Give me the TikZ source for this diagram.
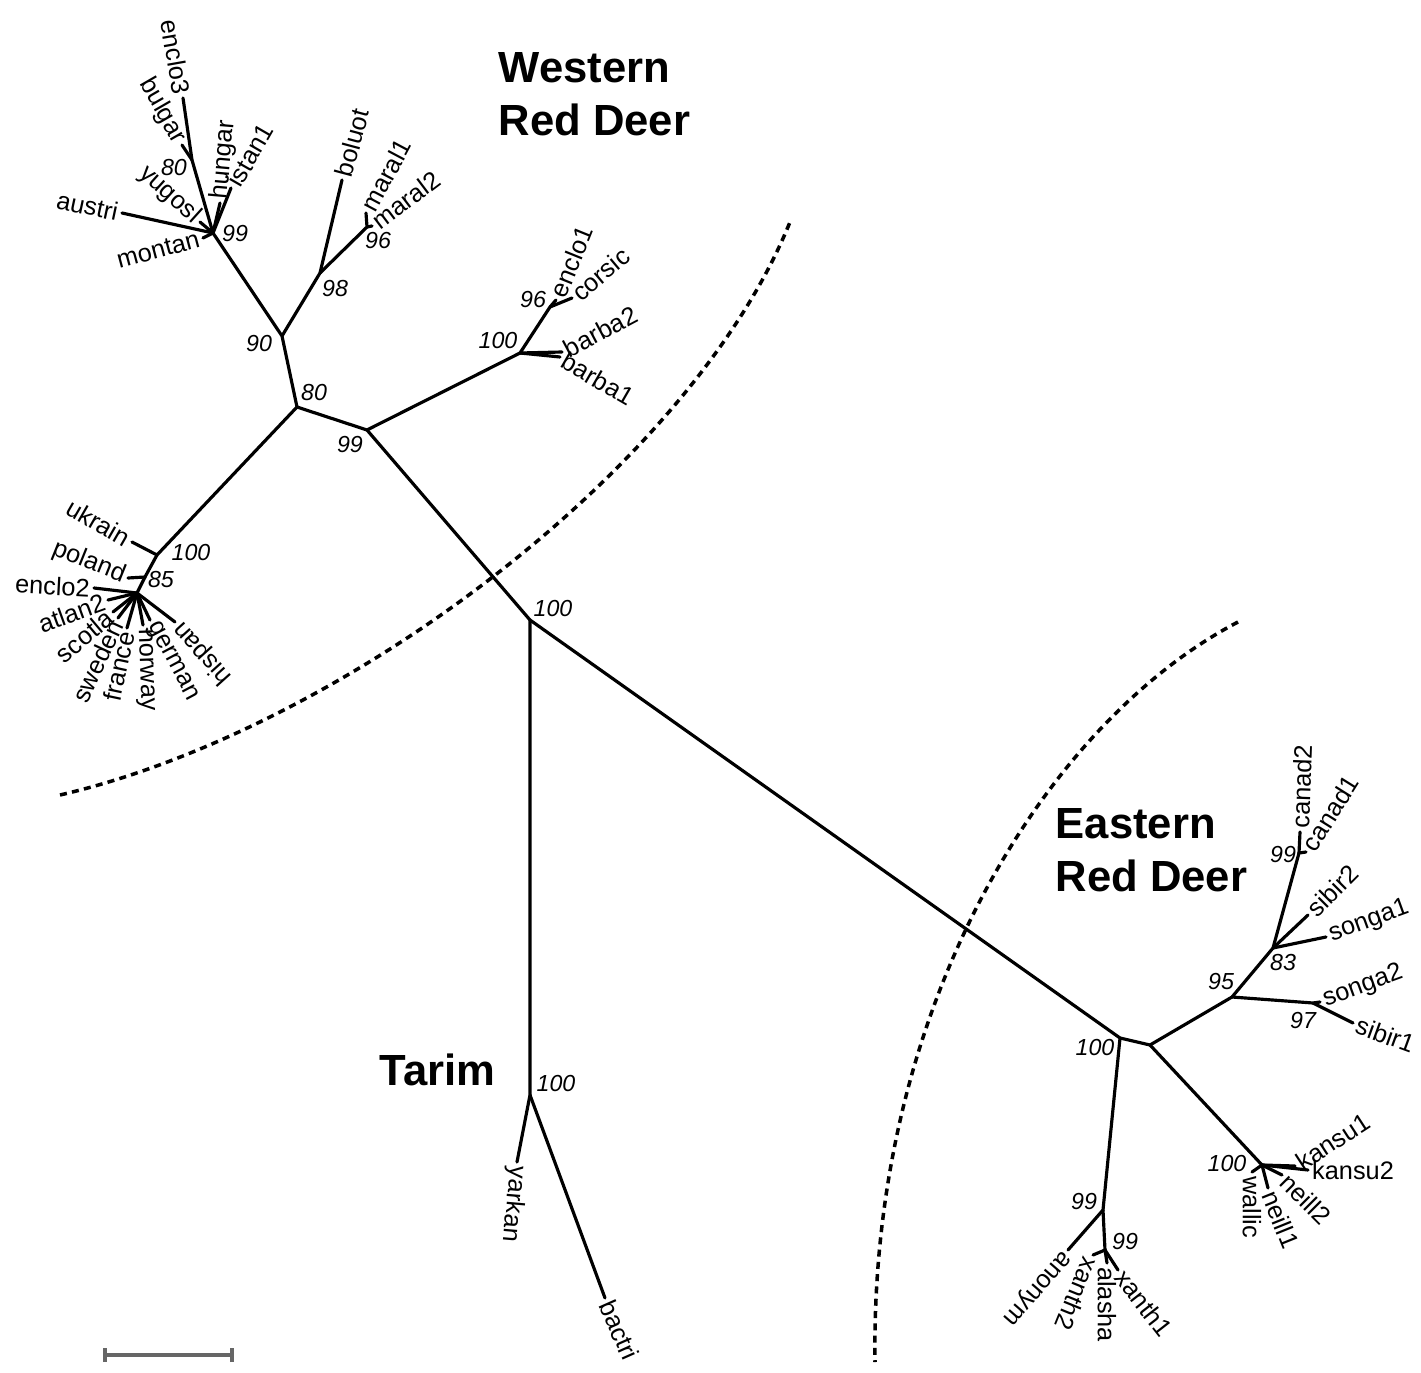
\documentclass[tikz,border=0pt]{standalone}
\usepackage{fontspec}
\setmainfont{Liberation Sans}

\begin{document}
\begin{tikzpicture}[
		x=0.01cm, y=-0.01cm,
		branch/.style={
				line width=0.9pt,
				line cap=round
			},
		tip/.style={
				font=\fontsize{7.2}{8}\selectfont,
				inner sep=1pt,
				anchor=west
			},
		tipf/.style={
				tip,
				anchor=east
			},
		boot/.style={
				font=\fontsize{6.6}{7}\selectfont\itshape,
				inner sep=0pt
			},
		group/.style={
				font=\fontsize{12.4}{15}\selectfont\bfseries,
				align=left,
				inner sep=0pt
			},
		border/.style={
				line width=1pt,
				dash pattern=on 2pt off 1.5pt
			},
		scalebar/.style={
				draw=black!60,
				line width=1pt
			}
	]
	\useasboundingbox (0,0) rectangle (1421,1373);

	% inner nodes
	\coordinate (W99) at (213,233);
	\coordinate (N80) at (192,160);
	\coordinate (W90) at (282,336);
	\coordinate (W98) at (320,273);
	\coordinate (W96) at (367,227);
	\coordinate (W80) at (297,407);
	\coordinate (W99b) at (367,430);
	\coordinate (N100) at (157,555);
	\coordinate (N85) at (145,577);
	\coordinate (P) at (137,593);
	\coordinate (B100) at (520,353);
	\coordinate (B96) at (550,307);
	\coordinate (A100) at (530,620);
	\coordinate (T100) at (530,1095);
	\coordinate (E100) at (1120,1038);
	\coordinate (E2) at (1150,1045);
	\coordinate (E95) at (1232,997);
	\coordinate (E83) at (1273,948);
	\coordinate (E99) at (1299,853);
	\coordinate (E97) at (1313,1003);
	\coordinate (K100) at (1262,1165);
	\coordinate (Y99) at (1103,1210);
	\coordinate (X99) at (1105,1250);

	% leaves
	\node[tipf, rotate=-80] (enclo3) at (183,98) {enclo3};
	\node[tipf, rotate=-60] (bulgar) at (182,145) {bulgar};
	\node[tip, rotate=85] (hungar) at (220,203) {hungar};
	\node[tip, rotate=60] (istan1) at (231,188) {istan1};
	\node[tipf, rotate=-42] (yugosl) at (200,222) {yugosl};
	\node[tipf, rotate=-12] (austri) at (122,213) {austri};
	\node[tipf, rotate=15] (montan) at (203,238) {montan};
	\node[tip, rotate=75] (boluot) at (342,180) {boluot};
	\node[tip, rotate=62] (maral1) at (366,213) {maral1};
	\node[tip, rotate=37] (maral2) at (372,226) {maral2};
	\node[tip, rotate=68] (enclo1) at (556,300) {enclo1};
	\node[tip, rotate=40] (corsic) at (572,298) {corsic};
	\node[tip, rotate=28] (barba2) at (562,352) {barba2};
	\node[tip, rotate=-30] (barba1) at (560,357) {barba1};
	\node[tipf, rotate=-30] (ukrain) at (132,542) {ukrain};
	\node[tipf, rotate=-22] (poland) at (128,578) {poland};
	\node[tipf, rotate=-3] (enclo2) at (94,588) {enclo2};
	\node[tipf, rotate=20] (atlan2) at (108,600) {atlan2};
	\node[tipf, rotate=40] (scotla) at (113,612) {scotla};
	\node[tipf, rotate=65] (sweden) at (118,618) {sweden};
	\node[tipf, rotate=78] (france) at (127,628) {france};
	\node[tip, rotate=-88] (norway) at (143,625) {norway};
	\node[tip, rotate=-62] (german) at (150,620) {german};
	\node[tipf, rotate=132] (hispan) at (175,622) {hispan};
	\node[tip, rotate=-95] (yarkan) at (517,1162) {yarkan};
	\node[tip, rotate=-66] (bactri) at (605,1298) {bactri};
	\node[tip, rotate=88] (canad2) at (1300,832) {canad2};
	\node[tip, rotate=58] (canad1) at (1306,852) {canad1};
	\node[tip, rotate=45] (sibir2) at (1308,915) {sibir2};
	\node[tip, rotate=20] (songa1) at (1326,937) {songa1};
	\node[tip, rotate=20] (songa2) at (1320,1002) {songa2};
	\node[tip, rotate=-20] (sibir1) at (1353,1023) {sibir1};
	\node[tip, rotate=33] (kansu1) at (1295,1166) {kansu1};
	\node[tip, rotate=0] (kansu2) at (1308,1170) {kansu2};
	\node[tip, rotate=-45] (neill2) at (1282,1175) {neill2};
	\node[tip, rotate=-68] (neill1) at (1268,1188) {neill1};
	\node[tip, rotate=-90] (wallic) at (1252,1172) {wallic};
	\node[tip, rotate=-52] (xanth1) at (1118,1270) {xanth1};
	\node[tip, rotate=-90] (alasha) at (1107,1263) {alasha};
	\node[tip, rotate=-112] (xanth2) at (1093,1255) {xanth2};
	\node[tip, rotate=-131] (anonym) at (1068,1250) {anonym};

	% branches
	\draw[branch] (W99) -- (W90) -- (W80) -- (W99b) -- (A100) -- (E100) -- (E2) -- (E95) -- (E83) -- (E99);
	\draw[branch] (W99) -- (N80) -- (enclo3.east);
	\draw[branch] (N80) -- (bulgar.east);
	\draw[branch] (W99) -- (hungar.west);
	\draw[branch] (W99) -- (istan1.west);
	\draw[branch] (W99) -- (yugosl.east);
	\draw[branch] (W99) -- (austri.east);
	\draw[branch] (W99) -- (montan.east);
	\draw[branch] (W90) -- (W98) -- (boluot.west);
	\draw[branch] (W98) -- (W96) -- (maral1.west);
	\draw[branch] (W96) -- (maral2.west);
	\draw[branch] (W80) -- (N100) -- (ukrain.east);
	\draw[branch] (N100) -- (N85) -- (poland.east);
	\draw[branch] (N85) -- (P);
	\foreach \leaf in {enclo2, atlan2, scotla, sweden, france, hispan}
		\draw[branch] (P) -- (\leaf.east);
	\foreach \leaf in {norway, german}
		\draw[branch] (P) -- (\leaf.west);
	\draw[branch] (W99b) -- (B100) -- (B96) -- (enclo1.west);
	\draw[branch] (B96) -- (corsic.west);
	\draw[branch] (B100) -- (barba2.west);
	\draw[branch] (B100) -- (barba1.west);
	\draw[branch] (A100) -- (T100) -- (yarkan.west);
	\draw[branch] (T100) -- (bactri.west);
	\draw[branch] (E99) -- (canad2.west);
	\draw[branch] (E99) -- (canad1.west);
	\draw[branch] (E83) -- (sibir2.west);
	\draw[branch] (E83) -- (songa1.west);
	\draw[branch] (E95) -- (E97) -- (songa2.west);
	\draw[branch] (E97) -- (sibir1.west);
	\draw[branch] (E2) -- (K100);
	\foreach \leaf in {kansu1, kansu2, neill2, neill1, wallic}
		\draw[branch] (K100) -- (\leaf.west);
	\draw[branch] (E100) -- (Y99) -- (anonym.west);
	\draw[branch] (Y99) -- (X99);
	\foreach \leaf in {xanth1, alasha, xanth2}
		\draw[branch] (X99) -- (\leaf.west);

	% bootstrap values
	\node[boot] (bN80) at (174,168) {80};
	\node[boot] (bW99) at (235,234) {99};
	\node[boot] (bW98) at (335,289) {98};
	\node[boot] (bW96) at (378,241) {96};
	\node[boot] (bW90) at (259,344) {90};
	\node[boot] (bW80) at (314,393) {80};
	\node[boot] (bW99b) at (350,445) {99};
	\node[boot] (bN100) at (191,553) {100};
	\node[boot] (bN85) at (161,580) {85};
	\node[boot] (bB96) at (533,300) {96};
	\node[boot] (bB100) at (498,341) {100};
	\node[boot] (bA100) at (553,609) {100};
	\node[boot] (bT100) at (556,1083) {100};
	\node[boot] (bE100) at (1095,1048) {100};
	\node[boot] (bE95) at (1221,982) {95};
	\node[boot] (bE83) at (1283,963) {83};
	\node[boot] (bE99) at (1283,855) {99};
	\node[boot] (bE97) at (1303,1021) {97};
	\node[boot] (bK100) at (1227,1164) {100};
	\node[boot] (bY99) at (1084,1201) {99};
	\node[boot] (bX99) at (1125,1241) {99};

	% groups
	\node[group, anchor=north west] (western) at (498,52) {Western\\Red Deer};
	\node[group, anchor=north west] (eastern) at (1055,808) {Eastern\\Red Deer};
	\node[group, anchor=west] (tarim) at (379,1070) {Tarim};

	\coordinate (wa) at (60,795);
	\coordinate (wb) at (790,222);
	\draw[border] (wa) .. controls (340,730) and (690,470) .. (wb);
	\coordinate (ea) at (1238,622);
	\coordinate (eb) at (875,1362);
	\draw[border] (ea) .. controls (1050,720) and (870,1000) .. (eb);

	% scale
	\coordinate (sb1) at (105,1355);
	\coordinate (sb2) at (232,1355);
	\draw[scalebar] (sb1) -- (sb2);
	\draw[scalebar] ([yshift=-0.07cm]sb1) -- ([yshift=0.07cm]sb1);
	\draw[scalebar] ([yshift=-0.07cm]sb2) -- ([yshift=0.07cm]sb2);
\end{tikzpicture}
\end{document}
